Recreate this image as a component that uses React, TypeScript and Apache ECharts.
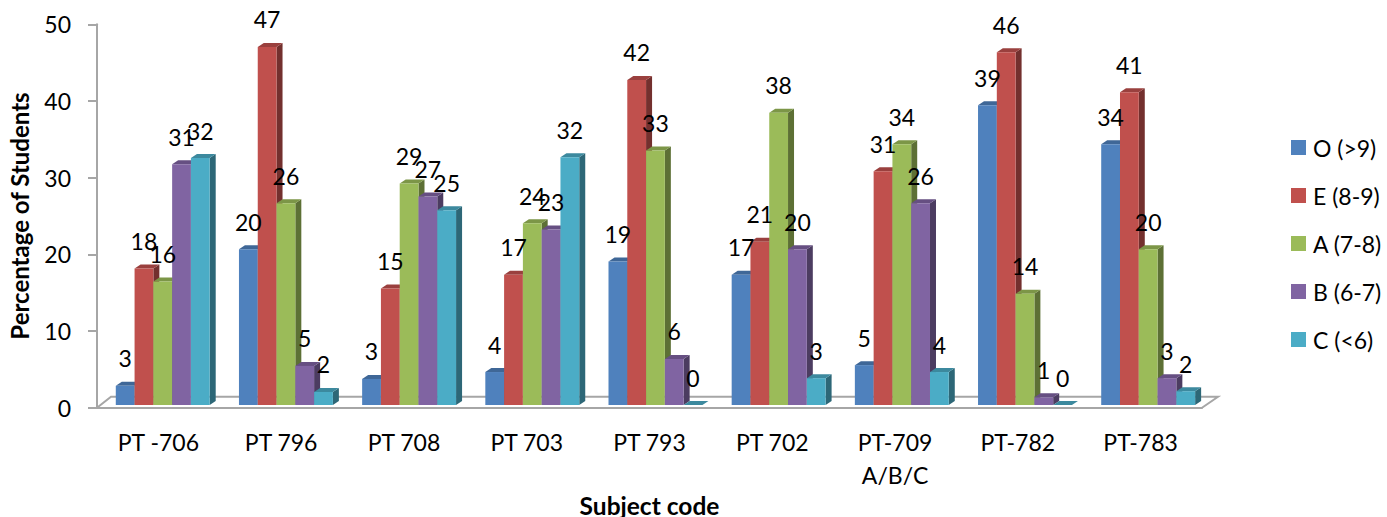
import React, { useEffect, useRef } from "react";
import * as echarts from "echarts";

const categories = ["PT -706", "PT 796", "PT 708", "PT 703", "PT 793", "PT 702", "PT-709\nA/B/C", "PT-782", "PT-783"];
const seriesNames = ["O (>9)", "E (8-9)", "A (7-8)", "B (6-7)", "C (<6)"];
const valuesO = [2.5, 20.3, 3.4, 4.3, 18.7, 17, 5.2, 39.1, 34];
const valuesE = [17.8, 46.7, 15.2, 17, 42.4, 21.3, 30.5, 46, 40.8];
const valuesA = [16.1, 26.3, 28.9, 23.7, 33.2, 38.1, 34, 14.5, 20.3];
const valuesB = [31.4, 5.1, 27.2, 22.9, 6, 20.3, 26.3, 1, 3.5];
const valuesC = [32.2, 1.7, 25.4, 32.3, 0, 3.5, 4.3, 0, 1.8];
const labelsO = [3, 20, 3, 4, 19, 17, 5, 39, 34];
const labelsE = [18, 47, 15, 17, 42, 21, 31, 46, 41];
const labelsA = [16, 26, 29, 24, 33, 38, 34, 14, 20];
const labelsB = [31, 5, 27, 23, 6, 20, 26, 1, 3];
const labelsC = [32, 2, 25, 32, 0, 3, 4, 0, 2];
const allValues = [valuesO, valuesE, valuesA, valuesB, valuesC];
const allLabels = [labelsO, labelsE, labelsA, labelsB, labelsC];
const frontColors = ["#4F81BD", "#C0504D", "#9BBB59", "#8064A2", "#4BACC6"];
const topColors = ["#3F6797", "#9A403E", "#7C9647", "#664F82", "#3C899E"];
const sideColors = ["#2F4D71", "#73302E", "#5D7035", "#4C3C61", "#2D6777"];

const FONT = "Lato, Carlito, Calibri, sans-serif";
const AXIS_COLOR = "#a6a6a6";
const DEPTH_X = 6;
const DEPTH_Y = 4;
const BASE_SHIFT = 2.7;
const BAR_W = 0.153;
const START = 0.153;
const DRIFT = 0.00326;

function barLeft(api: any, cat: number, s: number) {
  const cx = api.coord([cat, 0])[0];
  const band = api.size([1, 0])[0];
  return cx - band / 2 + band * (START + DRIFT * cat + BAR_W * s);
}

function renderBar(s: number) {
  return (_params: any, api: any) => {
    const cat = api.value(0);
    const band = api.size([1, 0])[0];
    const x0 = barLeft(api, cat, s);
    const x1 = x0 + band * BAR_W;
    const y0 = api.coord([cat, 0])[1] - BASE_SHIFT;
    const y1 = api.coord([cat, api.value(1)])[1] - BASE_SHIFT;
    return {
      type: "group",
      children: [
        { type: "polygon", shape: { points: [[x1, y0], [x1 + DEPTH_X, y0 - DEPTH_Y], [x1 + DEPTH_X, y1 - DEPTH_Y], [x1, y1]] }, style: { fill: sideColors[s] } },
        { type: "polygon", shape: { points: [[x0, y1], [x0 + DEPTH_X, y1 - DEPTH_Y], [x1 + DEPTH_X, y1 - DEPTH_Y], [x1, y1]] }, style: { fill: topColors[s] } },
        ...(y0 - y1 > 0.5 ? [{ type: "rect", shape: { x: x0, y: y1, width: x1 - x0, height: y0 - y1 }, style: { fill: frontColors[s] } }] : []),
      ],
    };
  };
}

function renderFloor(params: any) {
  const c = params.coordSys;
  const fy = c.y + c.height;
  const style = { stroke: AXIS_COLOR, lineWidth: 2, fill: "none" };
  return {
    type: "polyline",
    shape: { points: [[c.x, fy], [c.x + 14, fy - 11], [c.x + c.width + 16, fy - 11], [c.x + c.width, fy]] },
    style,
  };
}

function renderLabel(_params: any, api: any) {
  const cat = api.value(0);
  const s = api.value(1);
  const band = api.size([1, 0])[0];
  const x = barLeft(api, cat, s) + (band * BAR_W) / 2;
  const y = api.coord([cat, api.value(2)])[1] - BASE_SHIFT - 27.5;
  return {
    type: "text",
    style: { text: String(api.value(3)), x, y, align: "center", verticalAlign: "middle", font: `23px ${FONT}`, fill: "#000" },
  };
}

const labelRows: number[][] = [];
allValues.forEach((vals, s) => vals.forEach((v, c) => labelRows.push([c, s, v, allLabels[s][c]])));

export default function App() {
  const ref = useRef<HTMLDivElement>(null);
  useEffect(() => {
    const chart = echarts.init(ref.current!, undefined, { renderer: "svg" });
    chart.setOption({
      animation: false,
      backgroundColor: "#fff",
      textStyle: { fontFamily: FONT },
      grid: { left: 97, top: 24.3, width: 1105, height: 383.4, outerBoundsMode: "none", containLabel: false },
      legend: {
        orient: "vertical",
        left: 1291,
        top: 136,
        padding: 0,
        itemWidth: 15,
        itemHeight: 15,
        itemGap: 25,
        icon: "rect",
        data: seriesNames,
        textStyle: { fontFamily: FONT, fontSize: 23, color: "#000", padding: [0, 0, 0, 2] },
      },
      xAxis: {
        type: "category",
        data: categories,
        name: "Subject code",
        nameLocation: "middle",
        nameGap: 85,
        nameMoveOverlap: false,
        nameTextStyle: { fontFamily: FONT, fontSize: 24.5, fontWeight: "bold", color: "#000" },
        axisLine: { lineStyle: { color: AXIS_COLOR, width: 2 } },
        axisTick: { length: 9, lineStyle: { color: AXIS_COLOR, width: 2 } },
        axisLabel: { fontFamily: FONT, fontSize: 23, color: "#000", margin: 18, lineHeight: 33, interval: 0 },
      },
      yAxis: {
        type: "value",
        min: 0,
        max: 50,
        interval: 10,
        name: "Percentage of Students",
        nameLocation: "middle",
        nameGap: 66,
        nameTextStyle: { fontFamily: FONT, fontSize: 24, fontWeight: "bold", color: "#000" },
        splitLine: { show: false },
        axisLine: { show: true, lineStyle: { color: AXIS_COLOR, width: 2 } },
        axisTick: { show: true, length: 9, lineStyle: { color: AXIS_COLOR, width: 2 } },
        axisLabel: { fontFamily: FONT, fontSize: 23, color: "#000", margin: 26 },
      },
      series: [
        { type: "custom", name: "floor", silent: true, z: 1, renderItem: renderFloor, data: [[0, 0]], encode: { x: 0, y: 1 } },
        ...seriesNames.map((name, s) => ({
          type: "custom",
          name,
          z: 2 + s,
          itemStyle: { color: frontColors[s] },
          renderItem: renderBar(s),
          encode: { x: 0, y: 1 },
          data: allValues[s].map((v, c) => [c, v]),
        })),
        { type: "custom", name: "labels", silent: true, z: 10, renderItem: renderLabel, encode: { x: 0, y: 2 }, data: labelRows },
      ],
    });
    return () => chart.dispose();
  }, []);
  return <div ref={ref} style={{ position: "absolute", left: 0, top: 0, width: 1387, height: 517 }} />;
}
